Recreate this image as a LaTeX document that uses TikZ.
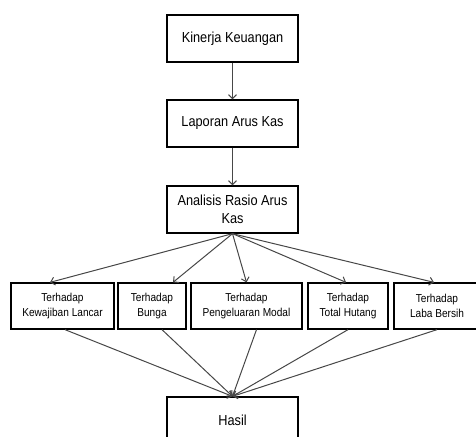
\documentclass[tikz,border=0pt]{standalone}
\usepackage{fontspec}
\setmainfont{Liberation Sans}[FakeStretch=0.88]
\usetikzlibrary{arrows,arrows.meta}

\begin{document}
\begin{tikzpicture}[x=1pt,y=-1pt,
    kotak/.style={draw=black,line width=1.3pt,align=center,inner sep=0pt,
      minimum width=131pt,minimum height=47pt,font=\fontsize{14.5}{18}\selectfont},
    kecil/.style={draw=black,line width=1.3pt,align=center,inner sep=0pt,
      minimum height=46pt,font=\fontsize{11.5}{15}\selectfont},
    panah/.style={-{Straight Barb[length=4pt,width=8pt]},draw=black!72,line width=1pt}]
      \useasboundingbox (0,0) rectangle (476,436);
      \clip (0,0) rectangle (476,436);

      \node[kotak] (kinerja) at (232.5,38.5) {Kinerja Keuangan};
      \node[kotak] (laporan) at (232.5,123.5) {Laporan Arus Kas};
      \node[kotak] (analisis) at (232.5,209.5) {Analisis Rasio Arus\\Kas};

      \node[kecil,minimum width=103pt] (kewajiban) at (62.5,306) {Terhadap\\Kewajiban Lancar};
      \node[kecil,minimum width=68pt] (bunga) at (152,306) {Terhadap\\Bunga};
      \node[kecil,minimum width=111pt] (modal) at (246.5,306) {Terhadap\\Pengeluaran Modal};
      \node[kecil,minimum width=80pt] (hutang) at (348,306) {Terhadap\\Total Hutang};
      \node[kecil,minimum width=86pt] (laba) at (437,306) {Terhadap\\Laba Bersih};

      \node[kotak] (hasil) at (232.5,420.5) {Hasil};

      \draw[panah] (kinerja) -- (laporan);
      \draw[panah] (laporan) -- (analisis);

      \draw[panah] (analisis.south) -- ([xshift=-12.5pt]kewajiban.north);
      \draw[panah] (analisis.south) -- ([xshift=21pt]bunga.north);
      \draw[panah] (analisis.south) -- (modal.north);
      \draw[panah] (analisis.south) -- ([xshift=-2pt]hutang.north);
      \draw[panah] (analisis.south) -- ([xshift=-3pt]laba.north);

      \draw[panah] ([xshift=2.5pt]kewajiban.south) -- (hasil.north);
      \draw[panah] ([xshift=10pt]bunga.south) -- (hasil.north);
      \draw[panah] ([xshift=10pt]modal.south) -- (hasil.north);
      \draw[panah] (hutang.south) -- (hasil.north);
      \draw[panah] (laba.south) -- (hasil.north);
    \end{tikzpicture}
\end{document}
